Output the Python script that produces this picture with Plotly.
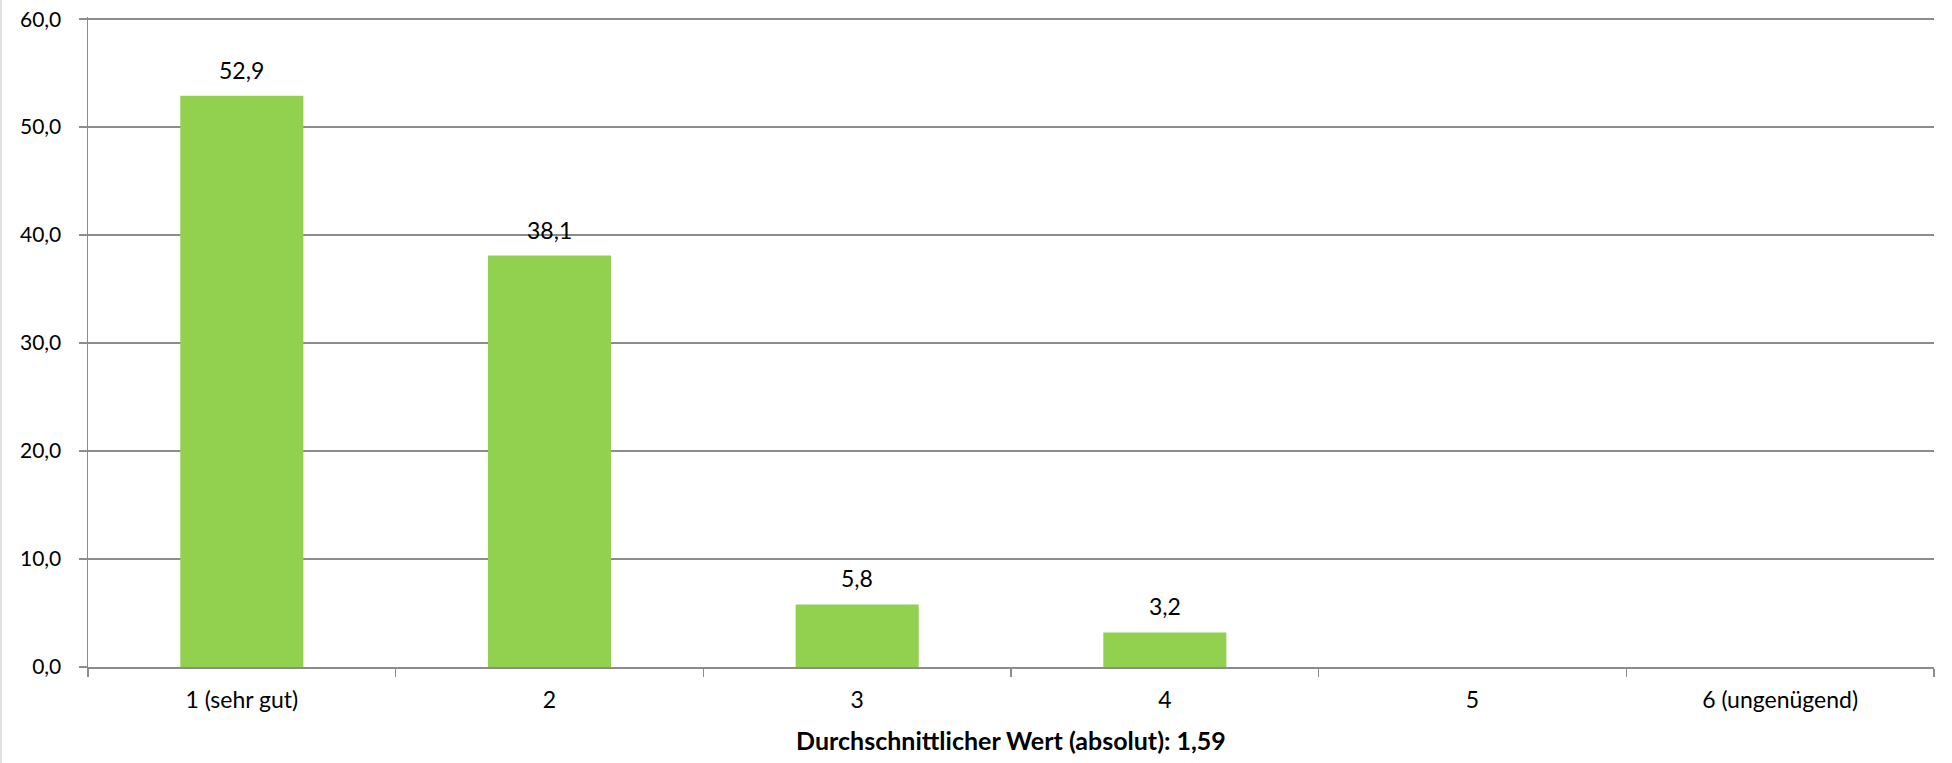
import plotly.graph_objects as go

categories = ["1 (sehr gut)", "2", "3", "4", "5", "6 (ungenügend)"]
values = [52.9, 38.1, 5.8, 3.2, None, None]
labels = ["52,9", "38,1", "5,8", "3,2", "", ""]
y_ticks = [0, 10, 20, 30, 40, 50, 60]
x_title = "Durchschnittlicher Wert (absolut): 1,59"

FONT = "Lato, Calibri, Carlito, sans-serif"
FS = 23
GRID = "#8C8C8C"

W, H = 1952, 763
ML, MR, MT, MB = 88, 18, 17, 96
PW, PH = W - ML - MR, H - MT - MB

fig = go.Figure()
fig.add_trace(go.Bar(
    x=categories, y=values,
    marker=dict(color="#92D050", line=dict(width=0)),
    hoverinfo="skip",
))

annotations = []
for i, (v, t) in enumerate(zip(values, labels)):
    if v is None:
        continue
    annotations.append(dict(
        x=i, y=v, xref="x", yref="y", text=t, showarrow=False,
        yanchor="bottom", yshift=10,
        font=dict(family=FONT, size=FS, color="#000000"),
    ))

fig.update_layout(
    width=W, height=H,
    margin=dict(l=ML, r=MR, t=MT, b=MB, pad=0),
    paper_bgcolor="white", plot_bgcolor="white",
    separators=",.",
    bargap=0.6,
    showlegend=False,
    font=dict(family=FONT, size=FS, color="#000000"),
    annotations=annotations,
    shapes=[dict(type="line", xref="paper", yref="paper",
                 x0=(1 - ML) / PW, x1=(1 - ML) / PW,
                 y0=-MB / PH, y1=1 + MT / PH,
                 line=dict(color="#D9D9D9", width=1.5))],
    xaxis=dict(
        type="category",
        categoryorder="array", categoryarray=categories,
        tickson="boundaries",
        ticks="outside", ticklen=8, tickcolor=GRID, tickwidth=1.5,
        showline=True, linecolor=GRID, linewidth=1.5,
        showgrid=False,
        ticklabelstandoff=12,
        tickfont=dict(family=FONT, size=FS),
        title=dict(text="<b>" + x_title + "</b>", standoff=20,
                   font=dict(family=FONT, size=25)),
        automargin=False,
        fixedrange=True,
    ),
    yaxis=dict(
        range=[0, 60.2],
        tickvals=y_ticks,
        tickformat=".1f",
        ticks="outside", ticklen=8, tickcolor=GRID, tickwidth=1.5,
        showline=True, linecolor=GRID, linewidth=1.5,
        showgrid=True, gridcolor=GRID, gridwidth=1.5,
        zeroline=False,
        ticklabelstandoff=13,
        ticklabeloverflow="allow",
        tickfont=dict(family=FONT, size=21),
        automargin=False,
        fixedrange=True,
    ),
)

fig.write_html("out.html",
               config={"displayModeBar": False, "staticPlot": True},
               post_script="document.body.style.margin='0';document.body.style.overflow='hidden';")
